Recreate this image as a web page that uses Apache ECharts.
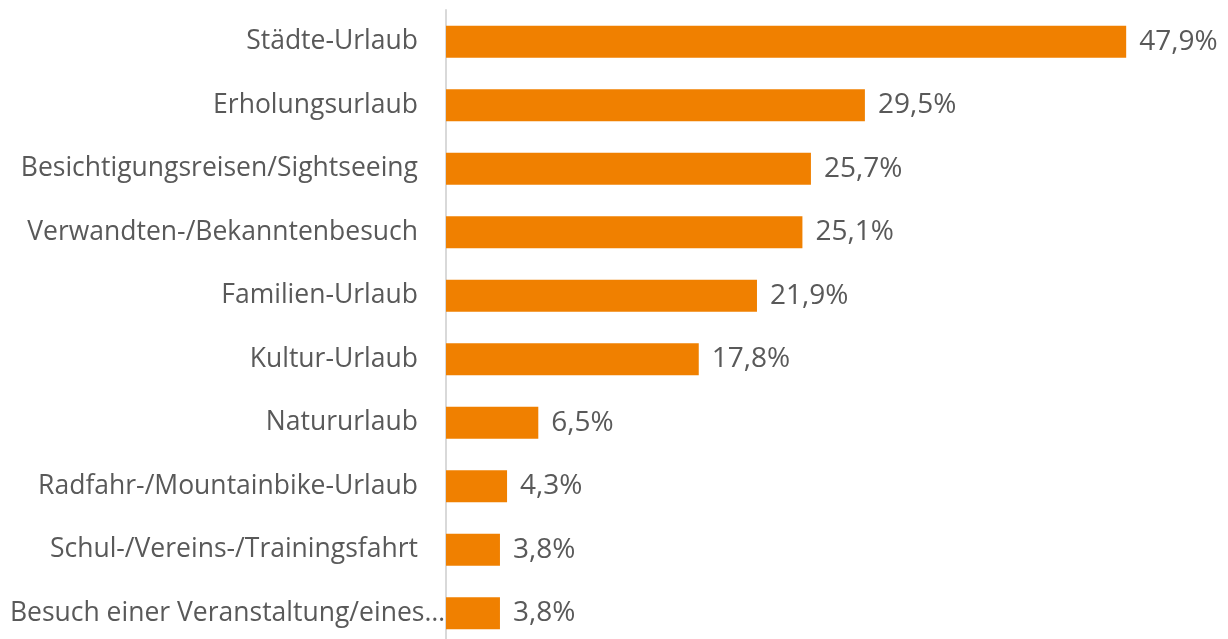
<!DOCTYPE html>
<html>
<head>
<meta charset="utf-8">
<script src="https://cdn.jsdelivr.net/npm/echarts@6/dist/echarts.min.js"></script>
<style>
  html, body { margin: 0; padding: 0; background: #fff; }
  #chart { width: 1228px; height: 639px; }
</style>
</head>
<body>
<div id="chart"></div>
<script>
// Kategorien (von oben nach unten)
const categories = [
    'Städte-Urlaub',
    'Erholungsurlaub',
    'Besichtigungsreisen/Sightseeing',
    'Verwandten-/Bekanntenbesuch',
    'Familien-Urlaub',
    'Kultur-Urlaub',
    'Natururlaub',
    'Radfahr-/Mountainbike-Urlaub',
    'Schul-/Vereins-/Trainingsfahrt',
    'Besuch einer Veranstaltung/eines…'
];
// Anteile in %
const values = [47.9, 29.5, 25.7, 25.1, 21.9, 17.8, 6.5, 4.3, 3.8, 3.8];

const fontFamily = '"Open Sans", "Noto Sans", sans-serif';
const textColor = '#595959';

const chart = echarts.init(document.getElementById('chart'));

// ECharts zeichnet Kategorien von unten nach oben -> umdrehen
const catData = categories.slice().reverse().map((c, i) => {
    if (i === 0) {
        return { value: c, textStyle: { padding: [0, -27, 0, 0] } };
    }
    return c;
});

chart.setOption({
    animation: false,
    grid: {
        left: 446,
        right: 72,
        top: 10,
        bottom: -6,
        outerBoundsMode: 'none'
    },
    xAxis: {
        type: 'value',
        min: 0,
        max: 50,
        show: false
    },
    yAxis: {
        type: 'category',
        data: catData,
        axisLine: { show: true, lineStyle: { color: '#d9d9d9', width: 2 } },
        axisTick: { show: false },
        axisLabel: {
            color: textColor,
            fontSize: 26.5,
            fontFamily: fontFamily,
            margin: 28
        }
    },
    series: [{
        type: 'bar',
        data: values.slice().reverse(),
        barWidth: 32,
        itemStyle: { color: '#f08000' },
        label: {
            show: true,
            position: 'right',
            distance: 13,
            color: textColor,
            fontSize: 28,
            fontFamily: fontFamily,
            formatter: (p) => p.value.toFixed(1).replace('.', ',') + '%'
        }
    }]
});
</script>
</body>
</html>
